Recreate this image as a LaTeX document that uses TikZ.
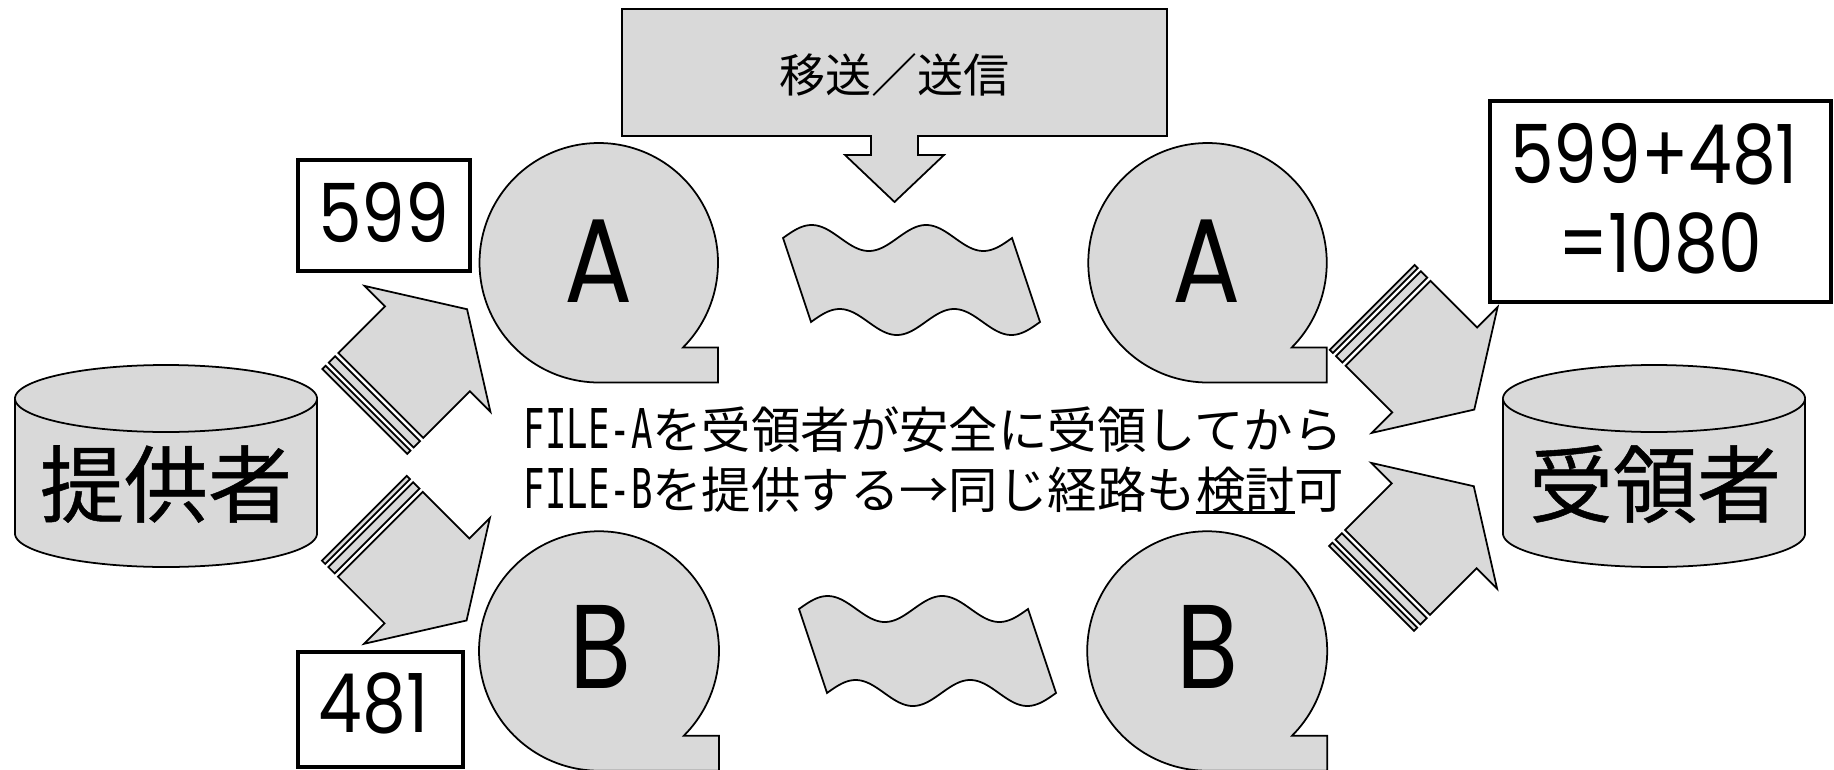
\documentclass[tikz,border=0pt]{standalone}
\usepackage{fontspec}
\newfontfamily\jpf{Noto Sans CJK JP}
\newfontfamily\jpbf[FakeBold=0.6]{Noto Sans CJK JP}
\newfontfamily\numf[FakeStretch=0.85]{Poppins}
\newfontfamily\latf[FakeStretch=0.65]{DejaVu Sans Mono}
\definecolor{sgray}{HTML}{D9D9D9}
\newcommand\myul[1]{\setbox0\hbox{#1}\rlap{\rule[-1.7pt]{\wd0}{0.85pt}}\box0}
\newcommand\mlat[1]{{\latf\fontsize{15.6pt}{18pt}\selectfont #1}}
\newcommand\drawbubble[4]{%
  \filldraw[shp] plot[domain=90:405,samples=140] ({#1+#3*cos(\x)},{#2+#4*sin(\x)})
    -- ({#1+#3},{#2+#4*sin(45)}) -- ({#1+#3},{#2+#4}) -- cycle;}
\newcommand\drawcyl[5]{% cx rx ytop ybot ry
  \filldraw[shp] ({#1-#2},#3)
    -- plot[domain=180:0,samples=90] ({#1+#2*cos(\x)},{#4+#5*sin(\x)})
    -- plot[domain=0:-180,samples=90] ({#1+#2*cos(\x)},{#3+#5*sin(\x)}) -- cycle;
  \draw[shp] plot[domain=180:0,samples=90] ({#1+#2*cos(\x)},{#3+#5*sin(\x)});}
\newcommand\drawstriped[3]{%
  \begin{scope}[shift={(#1,#2)},rotate=#3]
    \filldraw[shp] (-22.5,-60) -- (-18,-60) -- (-18,60) -- (-22.5,60) -- cycle;
    \filldraw[shp] (-13.5,-60) -- (-4.5,-60) -- (-4.5,60) -- (-13.5,60) -- cycle;
    \filldraw[shp] (0,-60) -- (66,-60) -- (66,-89) -- (122,0) -- (66,89) -- (66,60) -- (0,60) -- cycle;
  \end{scope}}
\newcommand\drawwave[2]{%
  \filldraw[shp] plot[domain=0:229,samples=100] ({#1+\x},{#2-13*sin(\x/229*720)})
    -- plot[domain=229:0,samples=100] ({#1+28+\x},{#2+84-13*sin(\x/229*720)}) -- cycle;}
\tikzset{
  shp/.style={draw=black, fill=sgray, line width=0.5pt, line join=miter},
  numbox/.style={draw=black, line width=1pt, inner sep=0pt},
  numtxt/.style={inner sep=0pt, font=\numf\fontsize{23.2pt}{30pt}\selectfont},
  lettxt/.style={inner sep=0pt, font=\numf\fontsize{33.9pt}{40pt}\selectfont},
  cyltxt/.style={inner sep=0pt, font=\jpbf\fontsize{23.9pt}{28pt}\selectfont},
  midtxt/.style={inner sep=0pt, font=\jpf\fontsize{14.05pt}{18pt}\selectfont},
  toptxt/.style={inner sep=0pt, font=\jpf\fontsize{13.1pt}{16pt}\selectfont}
}
\begin{document}
\begin{tikzpicture}[x=0.01cm, y=-0.01cm]
\useasboundingbox (0,0) rectangle (1834,770);
% transfer callout
\filldraw[shp] (622,9) -- (1167,9) -- (1167,136) -- (918,136) -- (918,155) -- (944,155)
  -- (894.5,202) -- (845,155) -- (871,155) -- (871,136) -- (622,136) -- cycle;
\node[toptxt, anchor=base] (xfer) at (894.5,92.5) {移送／送信};
% cylinders
\drawcyl{166}{151}{398.5}{533.5}{33.5}
\node[cyltxt, anchor=base] (giver) at (166,516) {提供者};
\drawcyl{1654}{151}{398.5}{533.5}{33.5}
\node[cyltxt, anchor=base] (taker) at (1655,516) {受領者};
% bubbles
\drawbubble{598.75}{262.75}{119.25}{119.75}
\drawbubble{1207.5}{262.75}{119.25}{119.75}
\drawbubble{599}{651}{120}{119.75}
\drawbubble{1207.2}{651}{120}{119.75}
\node[lettxt, anchor=base] (aL) at (598.7,302) {A};
\node[lettxt, anchor=base] (aR) at (1206.6,302) {A};
\node[lettxt, anchor=base] (bL) at (600.6,688) {B};
\node[lettxt, anchor=base] (bR) at (1208,688) {B};
% waves
\drawwave{783}{238}
\drawwave{799}{609}
% striped arrows
\drawstriped{380.8}{395.5}{45}
\drawstriped{380.3}{534.2}{-45}
\drawstriped{1388}{323.3}{-45}
\drawstriped{1387.5}{572.5}{45}
% number boxes
\node[numbox, minimum width=1.72cm, minimum height=1.11cm] (b599) at (384,215.5) {};
\node[numtxt, anchor=base] (t599) at (383.5,242) {599};
\node[numbox, minimum width=1.65cm, minimum height=1.15cm] (b481) at (380.5,709.5) {};
\node[numtxt, anchor=base] (t481) at (373.5,732) {481};
\node[numbox, minimum width=3.41cm, minimum height=2.01cm] (bsum) at (1660.5,201.5) {};
\node[numtxt, anchor=base] (tsum1) at (1654,183.5) {599+481};
\node[numtxt, anchor=base] (tsum2) at (1660,272.8) {=1080};
% middle text
\node[midtxt, anchor=base west] (line1) at (523,448) {\mlat{FILE-A}を受領者が安全に受領してから};
\node[midtxt, anchor=base west] (line2) at (523,508) {\mlat{FILE-B}を提供する→同じ経路も\myul{検討}可};
\end{tikzpicture}
\end{document}
